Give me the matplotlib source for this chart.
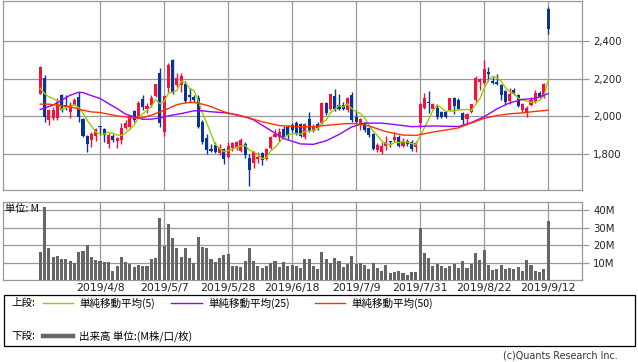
import matplotlib
matplotlib.use('Agg')
import matplotlib.pyplot as plt
import numpy as np
import pandas as pd
from matplotlib.lines import Line2D
from matplotlib.patches import Rectangle

# ---------------- data ----------------
opens = [2121,2204,1981,1993,1990,2112,2060,2021,2063,2104,
         1986,1898,1876,1898,1950,1933,1853,1898,1870,1876,
         1941,1942,2028,1998,2090,2039,2063,2109,2232,1916,
         2151,2297,2165,2165,2169,2114,2104,2098,1972,1885,
         1826,1849,1806,1828,1788,1832,1835,1818,1853,1783,
         1753,1776,1806,1776,1832,1893,1893,1934,1946,1955,
         1963,1958,1893,1986,1923,1958,1963,2069,2042,2109,
         2063,2063,2034,2112,1999,1955,1963,1941,1906,1823,
         1814,1846,1870,1876,1893,1846,1870,1863,1840,1963,
         2047,2077,2042,2047,2024,2024,2033,2100,2086,2019,
         1989,2024,2086,2182,2177,2235,2187,2182,2165,2135,
         2082,2142,2112,2033,2016,2060,2077,2124,2103,2568]
highs = [2266,2218,2042,2051,2095,2121,2112,2077,2098,2127,
         1990,1902,1920,1941,1952,1941,1911,1905,1893,1963,
         1981,2010,2035,2080,2112,2069,2112,2174,2256,2112,
         2284,2302,2227,2227,2186,2148,2112,2112,1981,1906,
         1853,1863,1853,1835,1863,1867,1870,1884,1863,1800,
         1818,1814,1814,1832,1898,1934,1937,1949,1955,1965,
         1975,1965,1965,2021,1958,1972,2074,2077,2121,2144,
         2121,2077,2104,2127,2034,1990,1972,1946,1911,1858,
         1867,1898,1870,1916,1902,1884,1880,1876,1870,2070,
         2124,2135,2072,2068,2030,2030,2100,2103,2095,2024,
         2016,2068,2212,2205,2296,2261,2208,2222,2173,2142,
         2152,2152,2117,2072,2054,2103,2142,2135,2177,2580]
lows = [2116,1972,1955,1981,1981,2025,2034,1990,2060,1972,
        1893,1811,1841,1870,1902,1863,1835,1863,1835,1853,
        1934,1935,1970,1990,2034,2016,2051,2104,1946,1898,
        2127,2121,2156,2130,2069,2077,2077,1937,1853,1800,
        1814,1806,1797,1748,1779,1818,1823,1814,1779,1635,
        1727,1753,1744,1770,1828,1890,1870,1887,1880,1920,
        1902,1890,1880,1918,1916,1928,1958,2010,2034,2028,
        2034,2034,2021,1972,1963,1928,1920,1893,1823,1814,
        1800,1823,1840,1867,1840,1840,1845,1819,1814,1937,
        2040,2019,2033,1989,1990,1993,2028,2012,2033,1960,
        1963,2019,2077,2138,2173,2187,2173,2165,2086,2068,
        2068,2112,2051,2024,1998,2054,2072,2095,2100,2437]
closes = [2262,1999,2034,2034,2077,2034,2050,2063,2086,1999,
          1898,1853,1905,1933,1944,1902,1902,1876,1884,1941,
          1963,2003,1981,2072,2051,2056,2098,2169,1963,2107,
          2274,2130,2204,2214,2081,2104,2086,1946,1867,1823,
          1818,1814,1840,1776,1846,1858,1863,1876,1797,1718,
          1814,1788,1770,1828,1893,1905,1916,1893,1902,1928,
          1911,1898,1958,1923,1951,1941,2069,2020,2116,2039,
          2039,2042,2098,1981,1972,1986,1928,1902,1828,1849,
          1846,1863,1863,1893,1846,1870,1853,1828,1858,2065,
          2095,2072,2068,1998,1995,1998,2095,2054,2042,1984,
          2012,2065,2205,2200,2252,2226,2177,2170,2112,2077,
          2121,2121,2054,2065,2047,2089,2124,2103,2170,2463]
volume_m = [16.2,41.9,18.5,13.3,13.7,12.0,12.0,10.9,9.5,16.2,
            16.6,20.0,13.3,11.4,10.9,10.1,10.1,5.1,8.2,13.3,
            10.1,9.1,7.6,8.6,8.2,8.2,12.0,12.8,35.6,19.6,
            32.0,24.2,18.5,13.3,18.5,12.8,9.9,24.8,19.0,18.5,
            12.0,10.5,12.8,14.3,15.0,8.2,8.2,7.6,10.7,18.5,
            10.9,8.2,7.0,8.2,9.5,10.9,7.6,10.1,8.2,8.6,
            8.2,7.0,12.0,12.0,8.2,6.3,15.8,12.0,9.5,12.8,
            10.9,7.6,9.1,13.7,9.1,9.5,8.6,6.3,9.5,7.0,
            5.1,8.6,4.2,4.8,5.1,3.8,2.9,4.8,4.8,29.9,
            15.2,12.4,8.2,9.1,8.0,7.0,8.2,9.1,7.0,10.9,
            7.0,9.1,15.2,11.4,17.1,8.6,5.7,6.3,8.6,6.3,
            6.7,6.3,7.6,5.1,11.4,8.6,5.1,4.4,6.3,33.7]

# first four 5-day average values (need history before the chart)
ma5_head = [2148, 2121, 2104, 2095]
# 25-day and 50-day averages, read at sample bars
ma25_idx = [0, 3, 5, 7, 9, 10, 12, 14, 16, 18, 20, 22, 24, 26, 28, 30, 33, 36, 38, 40,
            43, 46, 48, 50, 53, 57, 61, 64, 67, 70, 73, 76, 80, 84, 87, 92, 98, 101,
            104, 107, 110, 113, 116, 118, 119]
ma25_val = [2037, 2060, 2086, 2112, 2128, 2126, 2110, 2095, 2068, 2042, 2012, 1998, 1985,
            1986, 1992, 2003, 2015, 2030, 2030, 2025, 2020, 2010, 1998, 1982, 1940, 1884,
            1855, 1853, 1872, 1905, 1945, 1965, 1965, 1955, 1946, 1950, 1947, 1968, 1998,
            2040, 2072, 2090, 2095, 2112, 2121]
ma50_idx = [0, 2, 4, 6, 8, 10, 12, 14, 16, 18, 20, 22, 24, 26, 28, 30, 32, 34, 36, 38,
            40, 43, 46, 49, 52, 56, 60, 64, 68, 72, 74, 77, 81, 85, 88, 92, 96, 98, 101,
            104, 107, 110, 113, 116, 119]
ma50_val = [2065, 2065, 2060, 2054, 2046, 2033, 2024, 2021, 2012, 2003, 1998, 1991, 1993,
            2007, 2024, 2042, 2062, 2072, 2074, 2065, 2052, 2025, 2007, 1992, 1972, 1952,
            1946, 1946, 1955, 1963, 1962, 1950, 1920, 1902, 1900, 1918, 1932, 1940, 1965,
            1990, 2005, 2014, 2019, 2027, 2033]

tick_idx = [14, 29, 44, 59, 74, 89, 104, 119]
tick_labels = ['2019/4/8', '2019/5/7', '2019/5/28', '2019/6/18',
               '2019/7/9', '2019/7/31', '2019/8/22', '2019/9/12']
price_ticks = [1800, 2000, 2200, 2400]
vol_ticks = [10, 20, 30, 40]

# ---------------- styling ----------------
W, H = 638, 362
UP = '#F7103C'
DOWN = '#0A3399'
C_MA5 = '#99CC00'
C_MA25 = '#9900FF'
C_MA50 = '#FF3300'
GRID = '#999999'
VOLC = '#666666'
JP = ['Noto Sans CJK JP', 'DejaVu Sans']

fig = plt.figure(figsize=(W / 100, H / 100), dpi=100)


def rect(x0, y0, x1, y1):
    return [x0 / W, 1 - y1 / H, (x1 - x0) / W, (y1 - y0) / H]


def fx(x):
    return x / W


def fy(y):
    return 1 - y / H


ax = fig.add_axes(rect(3, 0.5, 582, 190))
axv = fig.add_axes(rect(3, 202, 582, 280))

n = len(closes)
x = np.arange(n)
o = np.array(opens, float)
c = np.array(closes, float)
hi = np.array(highs, float)
lo = np.array(lows, float)
colors = [UP if cc >= oo else DOWN for oo, cc in zip(o, c)]

xlim = (-8.74, 126.95)
for a in (ax, axv):
    a.set_xlim(*xlim)
    a.set_xticks(tick_idx)
    a.grid(True, color=GRID, lw=0.9)
    a.set_axisbelow(True)
    for s in a.spines.values():
        s.set_color(GRID)
        s.set_linewidth(0.9)
    a.yaxis.tick_right()
    a.tick_params(axis='y', direction='out', length=5, width=0.9, color=GRID,
                  labelsize=7.3, pad=3, labelcolor='#222222')

# candles
ax.vlines(x, lo, hi, colors=colors, lw=1.0, zorder=2)
body_bottom = np.minimum(o, c)
body_h = np.maximum(np.abs(c - o), 4)
ax.bar(x, body_h, bottom=body_bottom, width=0.72, color=colors, lw=0, zorder=3)

# moving averages
ma5 = pd.Series(c).rolling(5).mean().to_numpy()
ma5[:4] = ma5_head
ax.plot(x, ma5, color=C_MA5, lw=1.0, zorder=4)
ax.plot(ma25_idx, ma25_val, color=C_MA25, lw=1.0, zorder=4)
ax.plot(ma50_idx, ma50_val, color=C_MA50, lw=1.0, zorder=4)

ax.set_ylim(1612, 2612)
ax.set_yticks(price_ticks)
ax.set_yticklabels([f'{v:,}' for v in price_ticks])
ax.tick_params(axis='x', length=0, labelbottom=False)

# volume
axv.bar(x, volume_m, width=0.72, color=VOLC, lw=0, zorder=3)
axv.set_ylim(0, 44.6)
axv.set_yticks(vol_ticks)
axv.set_yticklabels([f'{v}M' for v in vol_ticks])
axv.set_xticklabels(tick_labels)
axv.tick_params(axis='x', length=0, labelsize=7.8, pad=2, labelcolor='#222222')

fig.text(fx(5), fy(209), '単位: M', family=JP, fontsize=7.4, va='center', ha='left',
         color='#111111')

# legend box
fig.add_artist(Rectangle((fx(3.5), fy(346)), (631) / W, (346 - 295) / H,
                         transform=fig.transFigure, fill=False, ec='black', lw=0.9))
r1, r2 = 303, 336
fs = 7.6
fig.text(fx(11), fy(r1), '上段:', family=JP, fontsize=fs, va='center')
fig.text(fx(11), fy(r2), '下段:', family=JP, fontsize=fs, va='center')
for (x0, x1, col, lab) in [(43, 73, C_MA5, '単純移動平均(5)'),
                           (171, 202, C_MA25, '単純移動平均(25)'),
                           (315, 345, C_MA50, '単純移動平均(50)')]:
    fig.add_artist(Line2D([fx(x0), fx(x1)], [fy(r1), fy(r1)], color=col, lw=1.0,
                          transform=fig.transFigure))
    fig.text(fx(x1 + 6), fy(r1), lab, family=JP, fontsize=fs, va='center')
fig.add_artist(Line2D([fx(43), fx(73)], [fy(r2), fy(r2)], color=VOLC, lw=3.2,
                      transform=fig.transFigure))
fig.text(fx(79), fy(r2), '出来高 単位:(M株/口/枚)', family=JP, fontsize=fs, va='center')

fig.text(fx(618), fy(355), '(c)Quants Research Inc.', fontsize=6.9, ha='right',
         va='center', color='#333333')

fig.savefig('out.png', dpi=100)
